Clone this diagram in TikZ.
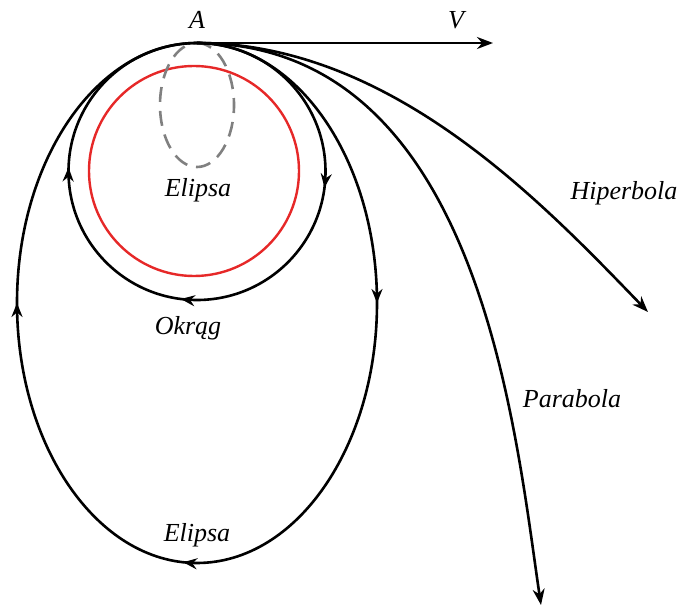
\documentclass[tikz,border=0pt]{standalone}
\usepackage{fontspec}
\setmainfont{Liberation Serif}
\usetikzlibrary{arrows.meta,decorations.markings}
\tikzset{
  orbit/.style={line width=2.6pt,black},
  lbl/.style={font=\fontsize{26}{30}\selectfont\itshape,inner sep=0pt},
}
\begin{document}
\begin{tikzpicture}[x=1pt,y=1pt]
\useasboundingbox (0,0) rectangle (681,-607);
\coordinate (A) at (197,-43);
\coordinate (Vend) at (493,-43);
\coordinate (Hend) at (648,-312);
\coordinate (Pend) at (541,-605);
% labels
\node[lbl] (lA) at (197,-20) {A};
\node[lbl] (lV) at (456,-20) {V};
\node[lbl] (lE1) at (198,-190) {Elipsa};
\node[lbl] (lO) at (188,-328) {Okrąg};
\node[lbl] (lH) at (624,-193) {Hiperbola};
\node[lbl] (lP) at (572,-399) {Parabola};
\node[lbl] (lE2) at (197,-535) {Elipsa};
% red circle
\draw[line width=2.4pt,draw={rgb,255:red,230;green,40;blue,40}] (194,-171) circle[radius=105];
% dashed ellipse
\draw[gray,line width=2.6pt,dash pattern=on 15pt off 9pt] (A) arc[start angle=90,end angle=-270,x radius=37,y radius=62];
% circle orbit
\draw[orbit,postaction={decorate},decoration={markings,
  mark=at position 0.27 with {\arrow{Stealth[length=14pt,width=11pt]}},
  mark=at position 0.52 with {\arrow{Stealth[length=14pt,width=11pt]}},
  mark=at position 0.755 with {\arrow{Stealth[length=14pt,width=11pt]}}}]
  (A) arc[start angle=90,end angle=-270,radius=128.5];
% big ellipse
\draw[orbit,postaction={decorate},decoration={markings,
  mark=at position 0.25 with {\arrow{Stealth[length=14pt,width=11pt]}},
  mark=at position 0.51 with {\arrow{Stealth[length=14pt,width=11pt]}},
  mark=at position 0.75 with {\arrow{Stealth[length=14pt,width=11pt]}}}]
  (A) arc[start angle=90,end angle=-270,x radius=180,y radius=260];
% velocity
\draw[orbit,-{Stealth[length=16pt,width=12pt]}] (A) -- (Vend);
% hyperbola
\draw[orbit,-{Stealth[length=16pt,width=12pt]}] (A) .. controls (390,-43) and (540,-200) .. (Hend);
% parabola
\draw[orbit,-{Stealth[length=16pt,width=12pt]}] (A) .. controls (480,-43) and (515,-430) .. (Pend);
\end{tikzpicture}
\end{document}
